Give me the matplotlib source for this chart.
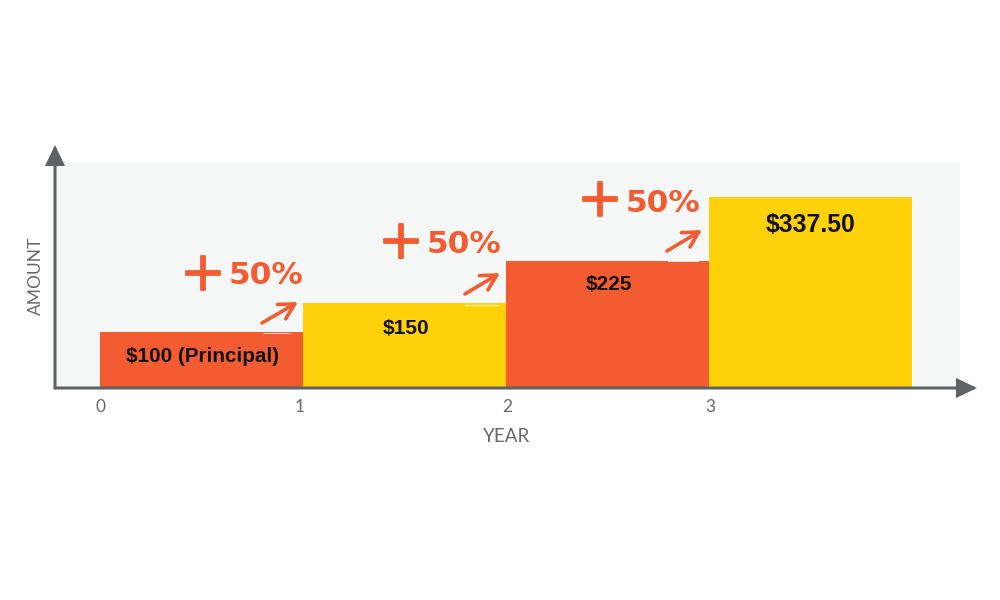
import matplotlib
matplotlib.use('Agg')
import matplotlib.pyplot as plt
import matplotlib.patheffects as pe
from matplotlib.lines import Line2D

# values
left_edges = [0, 1, 2, 3]
amounts = [100, 150, 225, 337.5]
bar_labels = ['$100 (Principal)', '$150', '$225', '$337.50']
year_ticks = ['0', '1', '2', '3']

ORANGE = '#f25c30'
YELLOW = '#ffd10a'
GREY = '#5f6366'
bar_colors = [ORANGE, YELLOW, ORANGE, YELLOW]

fig = plt.figure(figsize=(10, 6), dpi=100, facecolor='white')
ax = fig.add_axes([0.055, 212 / 600, 0.905, 226 / 600])
ax.set_facecolor('#f6f8f7')
ax.set_xlim(-45 / 203, 860 / 203)
ax.set_ylim(0, 400)

ax.bar(left_edges, amounts, width=1, align='edge', color=bar_colors, zorder=2)

for s in ax.spines:
    ax.spines[s].set_visible(False)
ax.set_yticks([])
ax.set_xticks([])


def fx(px):
    return px / 1000


def fy(py):
    return 1 - py / 600


# axis lines with arrow heads
for start, end in [((55, 388), (977, 388)), ((55, 388), (55, 145))]:
    ax.annotate('', xy=(fx(end[0]), fy(end[1])), xytext=(fx(start[0]), fy(start[1])),
                xycoords='figure fraction', textcoords='figure fraction',
                arrowprops=dict(arrowstyle='-|>,head_length=1.15,head_width=0.55', color=GREY,
                                lw=2.2, shrinkA=0, shrinkB=0, joinstyle='miter'), zorder=5)

# tick labels sit slightly off the bar edges in the original
for lab, px in zip(year_ticks, [101, 300, 507, 710]):
    fig.text(fx(px), fy(407), lab, ha='center', va='center', fontsize=12.5, color='#66696b', family='Lato')
fig.text(fx(507), fy(436), 'YEAR', ha='center', va='center', fontsize=13.5, color='#66696b', family='Lato')
fig.text(fx(36), fy(276), 'AMOUNT', rotation=90, ha='center', va='center', fontsize=12.5,
         color='#66696b', family='Lato')

# bar labels
label_pos = [(203, 357), (406, 328), (609, 285), (811, 225)]
label_size = [14.9, 15, 15, 17.8]
for i, lab in enumerate(bar_labels):
    fig.text(fx(label_pos[i][0]), fy(label_pos[i][1]), lab, ha='center', va='center', zorder=6,
             fontsize=label_size[i], fontweight='bold', color='#141008', family='Liberation Sans')

# hand drawn +50% notes
plus_pos = [(203, 275), (401, 243), (600, 201)]
pct_pos = [(229, 276), (427, 244), (626, 203)]
arrow_from = [(262, 323), (465, 294), (667, 251)]
arrow_to = [(298, 302), (500, 273), (702, 230)]
smudge = [((263, 290), 333), ((465, 498), 305), ((668, 698), 261)]
for p, t, a, b, m in zip(plus_pos, pct_pos, arrow_from, arrow_to, smudge):
    plus = fig.text(fx(p[0]), fy(p[1]), '+', ha='center', va='center', fontsize=39,
                    color=ORANGE, family='DejaVu Sans')
    plus.set_path_effects([pe.withStroke(linewidth=1.3, foreground=ORANGE)])
    fig.text(fx(t[0]), fy(t[1]), '50%', ha='left', va='center', fontsize=22.5, fontweight='bold',
             color=ORANGE, family='DejaVu Sans')
    ax.annotate('', xy=(fx(b[0]), fy(b[1])), xytext=(fx(a[0]), fy(a[1])),
                xycoords='figure fraction', textcoords='figure fraction',
                arrowprops=dict(arrowstyle='->,head_length=1.1,head_width=0.6', color=ORANGE,
                                lw=2.6, shrinkA=0, shrinkB=0, capstyle='round'), zorder=6)
    fig.add_artist(Line2D([fx(m[0][0]), fx(m[0][1])], [fy(m[1]), fy(m[1])], color='white', lw=0.7, alpha=0.8))

fig.savefig('out.png', dpi=100)
